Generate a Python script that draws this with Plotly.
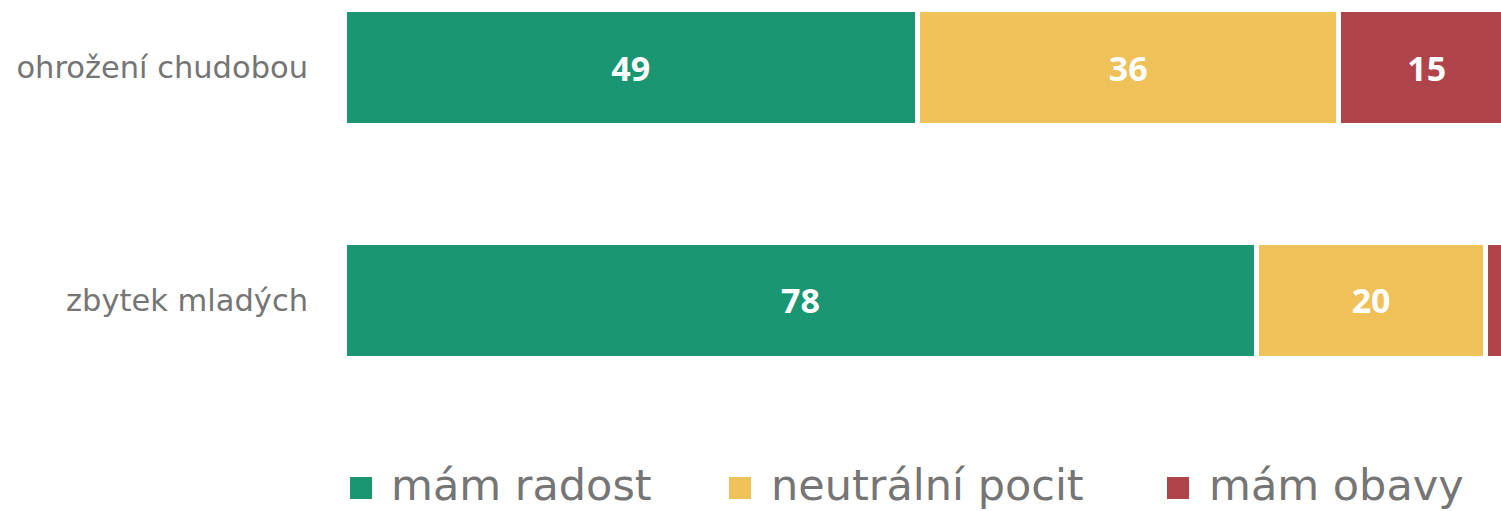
import plotly.graph_objects as go

categories = ["ohrožení chudobou", "zbytek mladých"]
series_names = ["mám radost", "neutrální pocit", "mám obavy"]
radost = [49, 78]
neutral = [36, 19.5]
obavy = [15, 2.5]
colors = ["#1B9673", "#EFC159", "#AF434A"]

W, H = 1501, 511
FONT = "DejaVu Sans"
GRAY = "#757575"

fig = go.Figure()
for name, vals, col in zip(series_names, [radost, neutral, obavy], colors):
    fig.add_trace(go.Bar(
        y=categories, x=vals, name=name, orientation="h",
        marker=dict(color=col, line=dict(color="white", width=5)),
        width=0.498,
        text=[f"{v:.0f}" if v >= 5 else "" for v in vals],
        textposition="inside", insidetextanchor="middle",
        textfont=dict(family="Open Sans", size=34, color="white", weight="bold"),
        showlegend=False, cliponaxis=True,
    ))

fig.update_layout(
    barmode="stack", width=W, height=H,
    margin=dict(l=0, r=0, t=0, b=0),
    paper_bgcolor="white", plot_bgcolor="white",
    xaxis=dict(domain=[344 / W, 1], range=[0, 98.85], visible=False, fixedrange=True),
    yaxis=dict(domain=[81 / H, 1], range=[1.556, -0.29], showgrid=False, zeroline=False,
               ticks="", ticklabelstandoff=35, fixedrange=True,
               tickfont=dict(family=FONT, size=30.5, color=GRAY)),
    showlegend=False,
)

# manual legend
sq_x = [361, 740, 1178]
tx_x = [389, 769, 1207]
ly = 485
for name, col, sx, tx in zip(series_names, colors, sq_x, tx_x):
    fig.add_shape(type="rect", xref="paper", yref="paper",
                  x0=(sx - 11) / W, x1=(sx + 11) / W,
                  y0=1 - (ly + 14) / H, y1=1 - (ly - 8) / H,
                  fillcolor=col, line=dict(width=0))
    fig.add_annotation(text=name, xref="paper", yref="paper",
                       x=tx / W, y=1 - ly / H, xanchor="left", yanchor="middle",
                       showarrow=False, font=dict(family=FONT, size=43, color=GRAY))

fig.write_html("out.html", config={"displayModeBar": False},
               post_script="document.body.style.margin='0';document.body.style.overflow='hidden';")
